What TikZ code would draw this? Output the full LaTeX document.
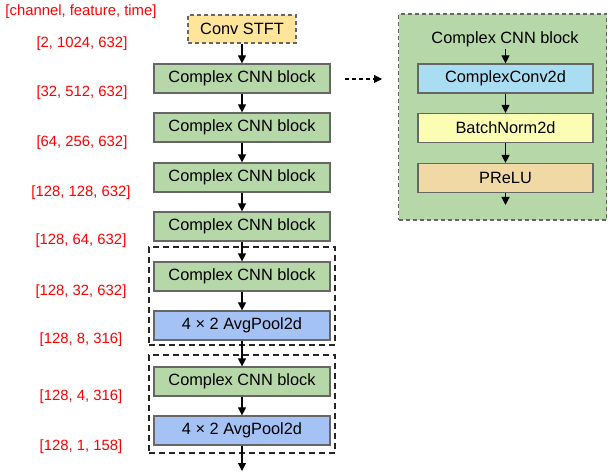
\documentclass[tikz,border=0pt]{standalone}
\usepackage{fontspec}
\setmainfont{Liberation Sans}
\usetikzlibrary{arrows.meta}
\definecolor{blockgreen}{HTML}{B6D7A8}
\definecolor{stftyellow}{HTML}{FFE599}
\definecolor{poolblue}{HTML}{A4C2F4}
\definecolor{convblue}{HTML}{A9DDF2}
\definecolor{normyellow}{HTML}{FBFDB3}
\definecolor{actorange}{HTML}{F1D9A6}
\definecolor{edgegray}{HTML}{666666}
\definecolor{dimred}{HTML}{FF0000}
\begin{document}
\begin{tikzpicture}[x=1bp,y=-1bp,
  box/.style={draw=edgegray,line width=1.2bp,minimum width=176bp,minimum height=29bp,
    inner sep=0pt,font=\fontsize{16.4}{18}\selectfont},
  cnn/.style={box,fill=blockgreen},
  pool/.style={box,fill=poolblue},
  stft/.style={box,fill=stftyellow,dash pattern=on 4bp off 3bp,minimum width=108bp,minimum height=28bp},
  group/.style={draw=black!85,line width=1.2bp,dash pattern=on 6bp off 4bp,minimum width=186bp,minimum height=98bp,inner sep=0pt},
  dimlabel/.style={text=dimred,font=\fontsize{14.9}{17}\selectfont,inner sep=0pt},
  flow/.style={-{Triangle[length=8bp,width=8bp]},line width=1.1bp},
  sub/.style={box,minimum width=175bp,minimum height=29bp}
]
\useasboundingbox (0,0) rectangle (608,473);

% main pipeline
\node[stft] (stft) at (242,29) {Conv STFT};
\node[cnn] (b1) at (242,78.5) {Complex CNN block};
\node[cnn] (b2) at (242,127.5) {Complex CNN block};
\node[cnn] (b3) at (242,177.5) {Complex CNN block};
\node[cnn] (b4) at (242,226.5) {Complex CNN block};
\node[group] (g1) at (242,296) {};
\node[cnn] (b5) at (242,276.5) {Complex CNN block};
\node[pool] (p1) at (242,325.5) {4 × 2 AvgPool2d};
\node[group] (g2) at (242,404) {};
\node[cnn] (b6) at (242,381.5) {Complex CNN block};
\node[pool] (p2) at (242,430.5) {4 × 2 AvgPool2d};
\coordinate (out) at (242,471);

\draw[flow] (stft) -- (b1);
\draw[flow] (b1) -- (b2);
\draw[flow] (b2) -- (b3);
\draw[flow] (b3) -- (b4);
\draw[flow] (b4) -- (b5);
\draw[flow] (b5) -- (p1);
\draw[flow] (p1) -- (b6);
\draw[flow] (b6) -- (p2);
\draw[flow] (p2) -- (out);

% tensor shapes
\node[dimlabel] (hdr) at (81,12) {[channel, feature, time]};
\node[dimlabel] (s0) at (82,44) {[2, 1024, 632]};
\node[dimlabel] (s1) at (82,93) {[32, 512, 632]};
\node[dimlabel] (s2) at (82,143) {[64, 256, 632]};
\node[dimlabel] (s3) at (81,193) {[128, 128, 632]};
\node[dimlabel] (s4) at (81,241) {[128, 64, 632]};
\node[dimlabel] (s5) at (81,292) {[128, 32, 632]};
\node[dimlabel] (s6) at (81,340) {[128, 8, 316]};
\node[dimlabel] (s7) at (81,397) {[128, 4, 316]};
\node[dimlabel] (s8) at (81,447) {[128, 1, 158]};

% detail of one complex CNN block
\node[draw=edgegray,fill=blockgreen,line width=1.2bp,dash pattern=on 4bp off 3bp,
  minimum width=208bp,minimum height=206bp,inner sep=0pt] (panel) at (502.5,117) {};
\node[font=\fontsize{16.4}{18}\selectfont,inner sep=0pt] (title) at (505,39) {Complex CNN block};
\node[sub,fill=convblue] (conv) at (505.5,78.5) {ComplexConv2d};
\node[sub,fill=normyellow] (bn) at (505.5,128) {BatchNorm2d};
\node[sub,fill=actorange] (act) at (505.5,178) {PReLU};
\coordinate (actout) at (505.5,205);

\draw[flow] ([yshift=-2bp]title.south -| conv.north) -- (conv);
\draw[flow] (conv) -- (bn);
\draw[flow] (bn) -- (act);
\draw[flow] (act) -- (actout);

% expansion pointer
\coordinate (ex0) at (345,79);
\coordinate (ex1) at (382,79);
\draw[flow,dash pattern=on 4bp off 3bp] (ex0) -- (ex1);
\end{tikzpicture}
\end{document}
